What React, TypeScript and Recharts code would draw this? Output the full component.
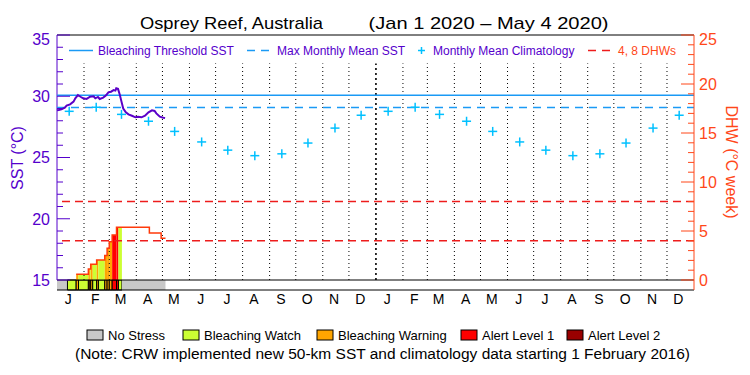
import React from "react";
import { ComposedChart, Line, XAxis, YAxis, ReferenceLine, ReferenceArea } from "recharts";

const FONT = "'Liberation Sans', Arial, Helvetica, sans-serif";
const PURPLE = "#5500cc";
const SST_COLOR = "#5a00c8";
const ORANGE_RED = "#ff4719";
const DHW_COLOR = "#ff3a0a";
const BLUE = "#1a9af5";
const CYAN = "#00c0ff";
const RED_DASH = "#ee1c1c";

const monthLetters = ["J", "F", "M", "A", "M", "J", "J", "A", "S", "O", "N", "D"];
const monthLengths = [31, 29, 31, 30, 31, 30, 31, 31, 30, 31, 30, 31, 31, 28, 31, 30, 31, 30, 31, 31, 30, 31, 30, 31];
const yearLabels = ["2020", "2021"];
const yearMidDays = [183, 548];

// monthly mean climatology (same for both years)
const climatology = [28.77, 29.1, 28.52, 27.96, 27.13, 26.27, 25.6, 25.15, 25.3, 26.18, 27.4, 28.45];

const maxMonthlyMean = 29.08;
const bleachingThreshold = 30.08;
const dhwAlertLines = [4, 8];

// daily SST (day 0 = Jan 1 2020)
const sstDays = [0, 2, 5, 9, 11, 15, 19, 21, 24, 27, 30, 34, 38, 42, 44, 47, 49, 53, 56, 59, 62, 65, 67, 68, 70, 72, 74, 76, 79, 82, 86, 90, 93, 97, 101, 105, 109, 112, 114, 118, 122, 124];
const sstValues = [28.85, 28.88, 28.93, 29.07, 29.23, 29.34, 29.56, 29.83, 30.1, 29.96, 29.83, 29.78, 29.96, 30.0, 29.83, 29.94, 29.78, 29.89, 30.05, 30.32, 30.37, 30.5, 30.46, 30.65, 30.6, 30.15, 29.56, 29.0, 28.69, 28.52, 28.41, 28.28, 28.33, 28.28, 28.41, 28.69, 28.85, 28.8, 28.6, 28.33, 28.25, 28.22];

// degree heating weeks, step changes
const dhwDays = [22, 36, 38.7, 45.5, 54.8, 57.5, 60, 63.3, 68.3, 106, 119.5, 124.5];
const dhwValues = [0.58, 1.12, 1.6, 2.03, 2.5, 3.23, 3.9, 4.6, 5.38, 4.8, 4.25, 4.25];

// stress level periods: 0 none, 1 watch, 2 warning, 3 alert 1, 4 alert 2
const stressFrom = [0, 12, 22, 24.7, 36, 37.8, 38.7, 41, 45.5, 47.5, 54.8, 57.5, 60, 63.3, 68.3, 70.5, 74.5];
const stressTo = [12, 22, 24.7, 36, 37.8, 38.7, 41, 45.5, 47.5, 54.8, 57.5, 60, 63.3, 68.3, 70.5, 74.5, 124.5];
const stressLevel = [0, 1, 2, 1, 2, 1, 2, 1, 2, 1, 2, 2, 2, 3, 3, 1, 0];
const stressDhw = [0, 0, 0.58, 0.58, 1.12, 1.12, 1.6, 1.6, 2.03, 2.03, 2.5, 3.23, 3.9, 4.6, 5.38, 5.38, 0];

const levelColors = ["#c8c8c8", "#ccff33", "#ffa500", "#ff0000", "#990000"];
const levelNames = ["No Stress", "Bleaching Watch", "Bleaching Warning", "Alert Level 1", "Alert Level 2"];

const sstTicks = [15, 16, 17, 18, 19, 20, 21, 22, 23, 24, 25, 26, 27, 28, 29, 30, 31, 32, 33, 34, 35];
const dhwTicks = [0, 1, 2, 3, 4, 5, 6, 7, 8, 9, 10, 11, 12, 13, 14, 15, 16, 17, 18, 19, 20, 21, 22, 23, 24, 25];

const monthStarts = monthLengths.reduce<number[]>((acc, len, i) => {
  acc.push(i === 0 ? 0 : acc[i - 1] + monthLengths[i - 1]);
  return acc;
}, []);
const totalDays = monthStarts[23] + monthLengths[23];
const monthTicks = monthStarts.map((d) => d + 13);

const sstData = sstDays.map((day, i) => ({ day, sst: sstValues[i] }));
const dhwData = dhwDays.map((day, i) => ({ day, dhw: dhwValues[i] }));
const climData = monthStarts.map((d, i) => ({ day: d + 14, clim: climatology[i % 12] }));

const sstMin = 15 - 10 / 12.25;
const dhwMin = -10 / 9.8;

function SstTick(props: any) {
  const { x, y, payload } = props;
  const v = payload.value;
  const major = v % 5 === 0;
  return (
    <g>
      <line x1={x} x2={x + (major ? 13 : 6)} y1={y} y2={y} stroke={PURPLE} />
      {major && (
        <text x={x - 7} y={y + (v === 35 ? 4 : 0)} dy="0.36em" textAnchor="end" fontSize={16} fill={PURPLE} fontFamily={FONT}>
          {v}
        </text>
      )}
    </g>
  );
}

function DhwTick(props: any) {
  const { x, y, payload } = props;
  const v = payload.value;
  const major = v % 5 === 0;
  return (
    <g>
      <line x1={x - (major ? 13 : 6)} x2={x} y1={y} y2={y} stroke={ORANGE_RED} />
      {major && (
        <text x={x + 5} y={y + (v === 25 ? 4 : 0)} dy="0.36em" textAnchor="start" fontSize={16} fill={ORANGE_RED} fontFamily={FONT}>
          {v}
        </text>
      )}
    </g>
  );
}

function Cross(props: any) {
  const { cx, cy } = props;
  if (cx == null || cy == null) return <g />;
  return (
    <g>
      <line x1={cx - 4.5} x2={cx + 4.5} y1={cy} y2={cy} stroke={CYAN} strokeWidth={1.5} />
      <line x1={cx} x2={cx} y1={cy - 4.5} y2={cy + 4.5} stroke={CYAN} strokeWidth={1.5} />
    </g>
  );
}

function Overlay() {
  const boxX = [87, 183, 317, 461, 567];
  return (
    <svg width={750} height={375} style={{ position: "absolute", left: 0, top: 0, pointerEvents: "none" }} fontFamily={FONT}>
      <text x={140} y={29} fontSize={17} fill="#000" textLength={183} lengthAdjust="spacingAndGlyphs">
        Osprey Reef, Australia
      </text>
      <text x={368.5} y={29} fontSize={17} fill="#000" textLength={240} lengthAdjust="spacingAndGlyphs">
        (Jan 1 2020 – May 4 2020)
      </text>

      <line x1={69} x2={93} y1={50.5} y2={50.5} stroke={BLUE} strokeWidth={1.5} />
      <text x={98} y={55} fontSize={12} fill={PURPLE}>Bleaching Threshold SST</text>
      <line x1={247} x2={270} y1={50.5} y2={50.5} stroke={BLUE} strokeWidth={1.5} strokeDasharray="8 6" />
      <text x={277} y={55} fontSize={12} fill={PURPLE}>Max Monthly Mean SST</text>
      <line x1={418} x2={425} y1={50.5} y2={50.5} stroke={CYAN} strokeWidth={1.5} />
      <line x1={421.5} x2={421.5} y1={47} y2={54} stroke={CYAN} strokeWidth={1.5} />
      <text x={433} y={55} fontSize={12} fill={PURPLE}>Monthly Mean Climatology</text>
      <line x1={588} x2={612} y1={50.5} y2={50.5} stroke={RED_DASH} strokeWidth={1.5} strokeDasharray="8 6" />
      <text x={618} y={55} fontSize={12} fill={ORANGE_RED}>4, 8 DHWs</text>

      <text transform="rotate(-90, 17, 158)" x={17} y={158} dy="0.36em" textAnchor="middle" fontSize={16} fill={PURPLE}>
        SST (°C)
      </text>
      <text transform="rotate(90, 732, 162)" x={732} y={162} dy="0.36em" textAnchor="middle" fontSize={16} fill={ORANGE_RED}>
        DHW (°C week)
      </text>

      {levelNames.map((name, i) => (
        <g key={name}>
          <rect x={boxX[i]} y={330} width={16} height={10} fill={levelColors[i]} stroke="#000" />
          <text x={boxX[i] + 21} y={339.5} fontSize={13} fill="#000">{name}</text>
        </g>
      ))}
      <text x={75} y={359} fontSize={14} fill="#000" textLength={615} lengthAdjust="spacingAndGlyphs">
        (Note: CRW implemented new 50-km SST and climatology data starting 1 February 2016)
      </text>
    </svg>
  );
}

export default function App() {
  return (
    <div style={{ position: "absolute", left: 0, top: 0, width: 750, height: 375, background: "#fff", fontFamily: FONT }}>
      <ComposedChart width={750} height={375} margin={{ top: 35, right: 0, bottom: 45, left: 0 }}>
        <XAxis
          type="number"
          dataKey="day"
          domain={[0, totalDays]}
          ticks={monthTicks}
          interval={0}
          tickFormatter={(v: number) => monthLetters[monthTicks.indexOf(v) % 12]}
          height={20}
          tickSize={0}
          tickMargin={4}
          axisLine={{ stroke: "#000" }}
          tick={{ fill: "#000", fontSize: 14, fontFamily: FONT }}
        />
        <XAxis
          xAxisId="year"
          type="number"
          domain={[0, totalDays]}
          ticks={yearMidDays}
          interval={0}
          tickFormatter={(v: number) => yearLabels[yearMidDays.indexOf(v)]}
          height={20}
          tickSize={0}
          tickMargin={0}
          axisLine={false}
          tick={{ fill: "#000", fontSize: 14, fontFamily: FONT }}
        />
        <YAxis
          yAxisId="sst"
          orientation="left"
          type="number"
          domain={[sstMin, 35]}
          ticks={sstTicks}
          interval={0}
          width={57}
          tickSize={0}
          tickMargin={0}
          axisLine={false}
          tickLine={false}
          tick={<SstTick />}
        />
        <YAxis
          yAxisId="dhw"
          orientation="right"
          type="number"
          domain={[dhwMin, 25]}
          ticks={dhwTicks}
          interval={0}
          width={56}
          tickSize={0}
          tickMargin={0}
          axisLine={{ stroke: ORANGE_RED }}
          tickLine={false}
          tick={<DhwTick />}
        />

        {stressFrom.map((from, i) => (
          <ReferenceArea
            key={`strip-${i}`}
            yAxisId="dhw"
            x1={from}
            x2={stressTo[i]}
            y1={dhwMin}
            y2={0}
            fill={levelColors[stressLevel[i]]}
            fillOpacity={1}
            stroke={stressLevel[i] === 0 ? "none" : "#000"}
            strokeWidth={1}
          />
        ))}
        {stressFrom.map((from, i) =>
          stressDhw[i] > 0 ? (
            <ReferenceArea
              key={`col-${i}`}
              yAxisId="dhw"
              x1={from}
              x2={stressTo[i]}
              y1={0}
              y2={stressDhw[i]}
              fill={levelColors[stressLevel[i]]}
              fillOpacity={1}
              stroke="none"
            />
          ) : null
        )}

        {monthStarts.slice(1).map((d) => (
          <ReferenceLine
            key={`m-${d}`}
            yAxisId="dhw"
            segment={[
              { x: d, y: 0 },
              { x: d, y: 22.1 },
            ]}
            stroke="#000"
            strokeWidth={d === 366 ? 1.6 : 1}
            strokeDasharray={d === 366 ? "2 3" : "1 3"}
          />
        ))}

        <ReferenceLine yAxisId="sst" y={35} stroke="#000" />
        <ReferenceLine yAxisId="dhw" y={0} stroke="#000" />
        <ReferenceLine
          yAxisId="sst"
          segment={[
            { x: 0, y: 15 },
            { x: 0, y: 35 },
          ]}
          stroke={PURPLE}
        />

        <ReferenceLine yAxisId="sst" y={bleachingThreshold} stroke={BLUE} strokeWidth={1.5} />
        <ReferenceLine yAxisId="sst" y={maxMonthlyMean} stroke={BLUE} strokeWidth={1.5} strokeDasharray="8 6" />
        {dhwAlertLines.map((v) => (
          <ReferenceLine key={`a-${v}`} yAxisId="dhw" y={v} stroke={RED_DASH} strokeWidth={1.5} strokeDasharray="8 5" />
        ))}

        <Line
          yAxisId="sst"
          data={climData}
          dataKey="clim"
          stroke="none"
          dot={<Cross />}
          activeDot={false}
          isAnimationActive={false}
        />
        <Line
          yAxisId="dhw"
          data={dhwData}
          dataKey="dhw"
          type="stepAfter"
          stroke={DHW_COLOR}
          strokeWidth={1.5}
          dot={false}
          activeDot={false}
          isAnimationActive={false}
        />
        <Line
          yAxisId="sst"
          data={sstData}
          dataKey="sst"
          type="linear"
          stroke={SST_COLOR}
          strokeWidth={2}
          dot={false}
          activeDot={false}
          isAnimationActive={false}
        />
      </ComposedChart>
      <Overlay />
    </div>
  );
}
